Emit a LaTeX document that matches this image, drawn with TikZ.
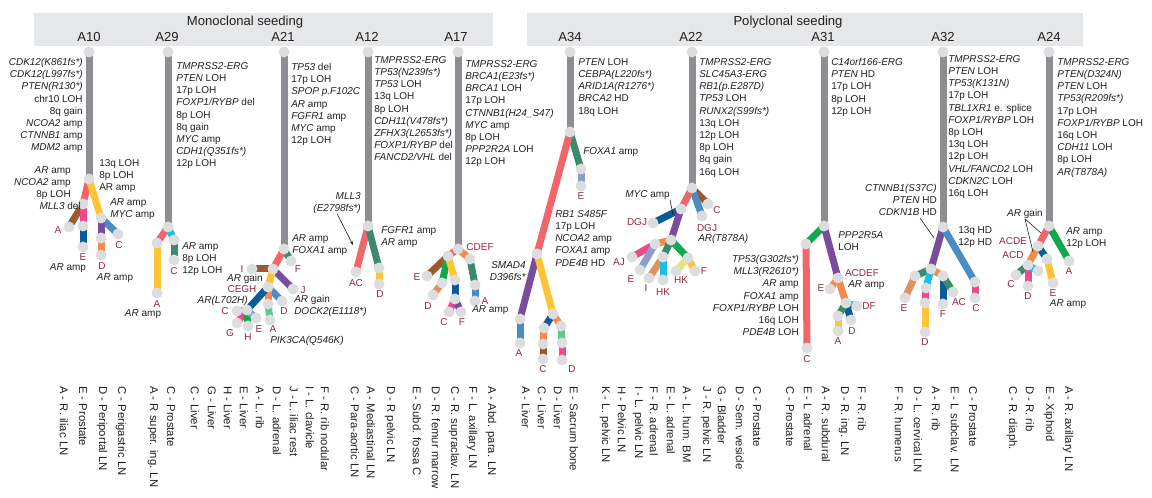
\documentclass[tikz,border=0pt]{standalone}
\usepackage{fontspec}
\setmainfont{Liberation Sans}
\usetikzlibrary{arrows.meta}

\definecolor{bandgray}{RGB}{230,231,232}
\definecolor{trunkgray}{RGB}{141,142,146}
\definecolor{dotgray}{RGB}{220,221,223}
\definecolor{txt}{RGB}{35,31,32}
\definecolor{sitered}{RGB}{150,40,60}
\definecolor{cred}{RGB}{242,102,106}
\definecolor{cyellow}{RGB}{253,197,53}
\definecolor{cpink}{RGB}{236,74,140}
\definecolor{cnavy}{RGB}{12,91,153}
\definecolor{csteel}{RGB}{74,140,196}
\definecolor{cpurple}{RGB}{122,76,158}
\definecolor{corange}{RGB}{244,139,74}
\definecolor{cbrown}{RGB}{155,90,46}
\definecolor{cteal}{RGB}{60,138,108}
\definecolor{cgreen}{RGB}{18,168,78}
\definecolor{ccyan}{RGB}{28,189,230}
\definecolor{cmint}{RGB}{94,199,154}
\definecolor{clav}{RGB}{142,156,204}
\definecolor{cpale}{RGB}{232,226,122}
\definecolor{ctan}{RGB}{224,146,90}

\newcommand{\gene}[1]{\textit{#1}}

\tikzset{
  trunk/.style={line width=5.25pt, draw=trunkgray},
  br/.style={line width=5.25pt, draw=#1},
  dot/.style={circle, fill=dotgray, inner sep=0pt, minimum size=8.25pt},
  band/.style={fill=bandgray, draw=none},
  hdr/.style={font=\fontsize{9.8}{11}\selectfont, text=txt, inner sep=0pt},
  muts/.style={font=\fontsize{7.5}{9.15}\selectfont, text=txt, inner sep=0pt},
  mutl/.style={muts, anchor=north west, align=left},
  mutr/.style={muts, anchor=north east, align=right},
  site/.style={font=\fontsize{7.5}{9}\selectfont, text=sitered, inner sep=0pt},
  organ/.style={font=\fontsize{8.5}{9}\selectfont, text=txt, rotate=-90, anchor=west, inner sep=0pt},
  lead/.style={draw=txt, line width=0.45pt},
}

\begin{document}
\begin{tikzpicture}[x=0.75pt, y=-0.75pt]
  \useasboundingbox (0,0) rectangle (1152,498);

  % header bands
  \fill[band] (34,13) rectangle (493,46);
  \fill[band] (527,13) rectangle (1083,46);
  \node[hdr] (mono) at (245,22) {Monoclonal seeding};
  \node[hdr] (poly) at (788,22) {Polyclonal seeding};
  \foreach \nm/\x in {A10/89, A29/167, A21/283, A12/367, A17/456,
                      A34/570, A22/691, A31/823, A32/943, A24/1049}
    \node[hdr] (h\nm) at (\x,37) {\nm};

  % tree points
  % A10
  \coordinate (a10t) at (89,52);   \coordinate (a10r) at (89,179);
  \coordinate (a10b) at (83,204);  \coordinate (a10y) at (101,218);
  \coordinate (a10A) at (69,227);  \coordinate (a10e) at (83,226);
  \coordinate (a10E) at (83,247);  \coordinate (a10C) at (118,234);
  \coordinate (a10d) at (101,238); \coordinate (a10D) at (101,255);
  % A29
  \coordinate (a29t) at (168,52);  \coordinate (a29r) at (168,227);
  \coordinate (a29a) at (157,243); \coordinate (a29A) at (157,293);
  \coordinate (a29c) at (174,240); \coordinate (a29C) at (174,260);
  % A21
  \coordinate (a21t) at (284,52);  \coordinate (a21r) at (284,249);
  \coordinate (a21F) at (291,261); \coordinate (a21n) at (273,269);
  \coordinate (a21I) at (252,269); \coordinate (a21J) at (293,289);
  \coordinate (a21m) at (268,287); \coordinate (a21D) at (282,301);
  \coordinate (a21a) at (268,304); \coordinate (a21A) at (270,320);
  \coordinate (a21k) at (247,310); \coordinate (a21C) at (237,311);
  \coordinate (a21G) at (237,323); \coordinate (a21H) at (248,326);
  \coordinate (a21E) at (256,318);
  % A12
  \coordinate (a12t) at (368,52);  \coordinate (a12r) at (368,226);
  \coordinate (a12AC) at (356,272); \coordinate (a12d) at (379,268);
  \coordinate (a12D) at (379,284); \coordinate (a12p) at (353,245);
  % A17
  \coordinate (a17t) at (458,52);  \coordinate (a17r) at (458,249);
  \coordinate (a17a) at (470,259); \coordinate (a17b) at (475,285);
  \coordinate (a17A) at (475,301); \coordinate (a17l) at (448,256);
  \coordinate (a17E) at (427,276); \coordinate (a17g) at (442,283);
  \coordinate (a17D) at (433,295); \coordinate (a17y) at (455,280);
  \coordinate (a17k) at (455,299); \coordinate (a17C) at (449,312);
  \coordinate (a17F) at (461,312);
  % A34
  \coordinate (a34t) at (570,52);  \coordinate (a34r) at (570,132);
  \coordinate (a34e) at (581,169); \coordinate (a34E) at (581,186);
  \coordinate (a34n) at (537,254); \coordinate (a34p) at (520,319);
  \coordinate (a34A) at (520,343); \coordinate (a34y) at (553,314);
  \coordinate (a34c) at (544,328); \coordinate (a34k) at (543,344);
  \coordinate (a34C) at (543,359); \coordinate (a34d) at (561,326);
  \coordinate (a34m) at (562,343); \coordinate (a34D) at (562,360);
  % A22
  \coordinate (a22t) at (692,52);  \coordinate (a22r) at (692,188);
  \coordinate (a22C) at (708,204); \coordinate (a22G) at (702,216);
  \coordinate (a22n) at (681,209); \coordinate (a22K) at (653,223);
  \coordinate (a22p) at (671,240); \coordinate (a22o) at (655,244);
  \coordinate (a22AJ) at (632,257); \coordinate (a22E) at (640,270);
  \coordinate (a22q) at (663,257); \coordinate (a22I) at (649,278);
  \coordinate (a22H) at (663,280); \coordinate (a22g) at (688,258);
  \coordinate (a22L) at (676,271); \coordinate (a22F) at (695,271);
  \coordinate (a22w) at (673,215);
  % A31
  \coordinate (a31t) at (824,52);  \coordinate (a31r) at (824,226);
  \coordinate (a31g) at (806,244); \coordinate (a31C) at (807,348);
  \coordinate (a31p) at (838,278); \coordinate (a31E) at (830,289);
  \coordinate (a31o) at (846,303); \coordinate (a31F) at (857,306);
  \coordinate (a31D) at (851,320); \coordinate (a31q) at (838,316);
  \coordinate (a31A) at (838,331);
  % A32
  \coordinate (a32t) at (943,52);  \coordinate (a32r) at (943,227);
  \coordinate (a32p) at (931,269); \coordinate (a32s) at (975,282);
  \coordinate (a32C) at (975,298); \coordinate (a32e) at (915,276);
  \coordinate (a32E) at (905,298); \coordinate (a32c) at (926,288);
  \coordinate (a32k) at (925,303); \coordinate (a32D) at (925,332);
  \coordinate (a32o) at (943,276); \coordinate (a32F) at (943,304);
  \coordinate (a32AC) at (953,292);
  \coordinate (a32u) at (920,218); \coordinate (a32w) at (934,238);
  % A24
  \coordinate (a24t) at (1049,52); \coordinate (a24r) at (1049,226);
  \coordinate (a24A) at (1069,261); \coordinate (a24n) at (1038,246);
  \coordinate (a24b) at (1047,259); \coordinate (a24E) at (1053,283);
  \coordinate (a24o) at (1028,265); \coordinate (a24C) at (1016,275);
  \coordinate (a24D) at (1028,286); \coordinate (a24c) at (1038,271);
  \coordinate (a24w) at (1041,233); \coordinate (a24v) at (1033,252);

  % trunks
  \foreach \t in {a10,a29,a21,a12,a17,a34,a22,a31,a32,a24}
    \draw[trunk] (\t t) -- (\t r);

  % branches
  \draw[br=cred] (a10r) -- (a10b);   \draw[br=cyellow] (a10r) -- (a10y);
  \draw[br=cbrown] (a10b) -- (a10A); \draw[br=cpink] (a10b) -- (a10e);
  \draw[br=cnavy] (a10e) -- (a10E);  \draw[br=csteel] (a10y) -- (a10C);
  \draw[br=cpurple] (a10y) -- (a10d); \draw[br=corange] (a10d) -- (a10D);

  \draw[br=cred] (a29r) -- (a29a);   \draw[br=cyellow] (a29a) -- (a29A);
  \draw[br=ccyan] (a29r) -- (a29c);  \draw[br=cteal] (a29c) -- (a29C);

  \draw[br=cteal] (a21r) -- (a21F);  \draw[br=cred] (a21r) -- (a21n);
  \draw[br=cbrown] (a21n) -- (a21I); \draw[br=cpurple] (a21n) -- (a21J);
  \draw[br=cyellow] (a21n) -- (a21m); \draw[br=csteel] (a21m) -- (a21D);
  \draw[br=corange] (a21m) -- (a21a); \draw[br=cmint] (a21a) -- (a21A);
  \draw[br=cnavy] (a21m) -- (a21k);  \draw[br=corange] (a21k) -- (a21C);
  \draw[br=cpink] (a21k) -- (a21G);  \draw[br=cgreen] (a21k) -- (a21H);
  \draw[br=clav] (a21k) -- (a21E);

  \draw[br=cred] (a12r) -- (a12AC);  \draw[br=cteal] (a12r) -- (a12d);
  \draw[br=cyellow] (a12d) -- (a12D);

  \draw[br=corange] (a17r) -- (a17a); \draw[br=cteal] (a17a) -- (a17b);
  \draw[br=csteel] (a17b) -- (a17A); \draw[br=cred] (a17r) -- (a17l);
  \draw[br=cbrown] (a17l) -- (a17E); \draw[br=cgreen] (a17l) -- (a17g);
  \draw[br=ctan] (a17g) -- (a17D);   \draw[br=cyellow] (a17l) -- (a17y);
  \draw[br=cnavy] (a17y) -- (a17k);  \draw[br=cpink] (a17k) -- (a17C);
  \draw[br=cpurple] (a17k) -- (a17F);

  \draw[br=cteal] (a34r) -- (a34e);  \draw[br=clav] (a34e) -- (a34E);
  \draw[br=cred] (a34r) -- (a34n);   \draw[br=cpurple] (a34n) -- (a34p);
  \draw[br=csteel] (a34p) -- (a34A); \draw[br=cyellow] (a34n) -- (a34y);
  \draw[br=cnavy] (a34y) -- (a34c);  \draw[br=corange] (a34c) -- (a34k);
  \draw[br=cbrown] (a34k) -- (a34C); \draw[br=corange] (a34y) -- (a34d);
  \draw[br=cmint] (a34d) -- (a34m);  \draw[br=cpink] (a34m) -- (a34D);

  \draw[br=cbrown] (a22r) -- (a22C); \draw[br=csteel] (a22r) -- (a22G);
  \draw[br=cred] (a22r) -- (a22n);   \draw[br=cnavy] (a22n) -- (a22K);
  \draw[br=cpurple] (a22n) -- (a22p); \draw[br=corange] (a22p) -- (a22o);
  \draw[br=cpink] (a22o) -- (a22AJ); \draw[br=clav] (a22o) -- (a22E);
  \draw[br=cteal] (a22p) -- (a22q);  \draw[br=ctan] (a22q) -- (a22I);
  \draw[br=ccyan] (a22q) -- (a22H);  \draw[br=cgreen] (a22p) -- (a22g);
  \draw[br=cpale] (a22g) -- (a22L);  \draw[br=cyellow] (a22g) -- (a22F);

  \draw[br=cgreen] (a31r) -- (a31g); \draw[br=cred] (a31g) -- (a31C);
  \draw[br=cpurple] (a31r) -- (a31p); \draw[br=corange] (a31p) -- (a31o);
  \draw[br=corange] (a31p) -- (a31E); \draw[br=ccyan] (a31o) -- (a31F);
  \draw[br=cnavy] (a31o) -- (a31D);  \draw[br=cteal] (a31o) -- (a31q);
  \draw[br=cyellow] (a31q) -- (a31A);

  \draw[br=cpurple] (a32r) -- (a32p); \draw[br=csteel] (a32r) -- (a32s);
  \draw[br=cpink] (a32s) -- (a32C);  \draw[br=cteal] (a32p) -- (a32e);
  \draw[br=ctan] (a32e) -- (a32E);   \draw[br=ccyan] (a32p) -- (a32c);
  \draw[br=cpink] (a32c) -- (a32k);  \draw[br=cyellow] (a32k) -- (a32D);
  \draw[br=corange] (a32p) -- (a32o); \draw[br=cnavy] (a32o) -- (a32F);
  \draw[br=cteal] (a32o) -- (a32AC);

  \draw[br=cgreen] (a24r) -- (a24A); \draw[br=cred] (a24r) -- (a24n);
  \draw[br=cnavy] (a24n) -- (a24b);  \draw[br=cyellow] (a24b) -- (a24E);
  \draw[br=corange] (a24n) -- (a24o); \draw[br=cteal] (a24o) -- (a24C);
  \draw[br=cpink] (a24o) -- (a24D);  \draw[br=ccyan] (a24o) -- (a24c);

  % dots
  \foreach \c in {a10t,a10r,a10b,a10y,a10A,a10e,a10E,a10C,a10d,a10D,
                  a29t,a29r,a29a,a29A,a29c,a29C,
                  a21t,a21r,a21F,a21n,a21I,a21J,a21m,a21D,a21a,a21A,
                  a21k,a21C,a21G,a21H,a21E,
                  a12t,a12r,a12AC,a12d,a12D,
                  a17t,a17r,a17a,a17b,a17A,a17l,a17E,a17g,a17D,a17y,
                  a17k,a17C,a17F,
                  a34t,a34r,a34e,a34E,a34n,a34p,a34A,a34y,a34c,a34k,
                  a34C,a34d,a34m,a34D,
                  a22t,a22r,a22C,a22G,a22n,a22K,a22p,a22o,a22AJ,a22E,
                  a22q,a22I,a22H,a22g,a22L,a22F,
                  a31t,a31r,a31g,a31C,a31p,a31E,a31o,a31F,a31D,a31q,a31A,
                  a32t,a32r,a32p,a32s,a32C,a32e,a32E,a32c,a32k,a32D,
                  a32o,a32F,a32AC,
                  a24t,a24r,a24A,a24n,a24b,a24E,a24o,a24C,a24D,a24c}
    \node[dot] (d\c) at (\c) {};

  % trunk mutations
  \node[mutr] (m10) at (83,58) {\gene{CDK12(K861fs*)}\\\gene{CDK12(L997fs*)}\\
    \gene{PTEN(R130*)}\\chr10 LOH\\8q gain\\\gene{NCOA2} amp\\
    \gene{CTNNB1} amp\\\gene{MDM2} amp};
  \node[mutl] (m29) at (176,62) {\gene{TMPRSS2-ERG}\\\gene{PTEN} LOH\\17p LOH\\
    \gene{FOXP1/RYBP} del\\8p LOH\\8q gain\\\gene{MYC} amp\\
    \gene{CDH1(Q351fs*)}\\12p LOH};
  \node[mutl] (m21) at (291,63) {\gene{TP53} del\\17p LOH\\\gene{SPOP p.F102C}\\
    \gene{AR} amp\\\gene{FGFR1} amp\\\gene{MYC} amp\\12p LOH};
  \node[mutl] (m12) at (374,56) {\gene{TMPRSS2-ERG}\\\gene{TP53(N239fs*)}\\
    \gene{TP53} LOH\\13q LOH\\8p LOH\\\gene{CDH11(V478fs*)}\\
    \gene{ZFHX3(L2653fs*)}\\\gene{FOXP1/RYBP} del\\\gene{FANCD2/VHL} del};
  \node[mutl] (m17) at (465,60) {\gene{TMPRSS2-ERG}\\\gene{BRCA1(E23fs*)}\\
    \gene{BRCA1} LOH\\17p LOH\\\gene{CTNNB1(H24\_S47)}\\\gene{MYC} amp\\
    8p LOH\\\gene{PPP2R2A} LOH\\12p LOH};
  \node[mutl] (m34) at (578,58) {\gene{PTEN} LOH\\\gene{CEBPA(L220fs*)}\\
    \gene{ARID1A(R1276*)}\\\gene{BRCA2} HD\\18q LOH};
  \node[mutl] (m22) at (699,58) {\gene{TMPRSS2-ERG}\\\gene{SLC45A3-ERG}\\
    \gene{RB1(p.E287D)}\\\gene{TP53} LOH\\\gene{RUNX2(S99fs*)}\\13q LOH\\
    12p LOH\\8p LOH\\8q gain\\16q LOH};
  \node[mutl] (m31) at (831,58) {\gene{C14orf166-ERG}\\\gene{PTEN} HD\\17p LOH\\
    8p LOH\\12p LOH};
  \node[mutl] (m32) at (948,55) {\gene{TMPRSS2-ERG}\\\gene{PTEN} LOH\\
    \gene{TP53(K131N)}\\17p LOH\\\gene{TBL1XR1} e. splice\\
    \gene{FOXP1/RYBP} LOH\\8p LOH\\13q LOH\\12p LOH\\
    \gene{VHL/FANCD2} LOH\\\gene{CDKN2C} LOH\\16q LOH};
  \node[mutl] (m24) at (1057,58) {\gene{TMPRSS2-ERG}\\\gene{PTEN(D324N)}\\
    \gene{PTEN} LOH\\\gene{TP53(R209fs*)}\\17p LOH\\\gene{FOXP1/RYBP} LOH\\
    16q LOH\\\gene{CDH11} LOH\\8p LOH\\\gene{AR(T878A)}};

  % branch mutations
  % A10
  \node[mutl] (b10a) at (99,159) {13q LOH\\8p LOH\\AR amp};
  \node[mutr] (b10b) at (71,166) {\gene{AR} amp\\\gene{NCOA2} amp\\8p LOH};
  \node[mutr] (b10c) at (81,202) {\gene{MLL3} del};
  \node[mutl] (b10d) at (110,198) {\gene{AR} amp\\\gene{MYC} amp};
  \node[muts] (b10e) at (68,268) {\gene{AR} amp};
  \node[muts] (b10f) at (115,278) {\gene{AR} amp};
  % A29
  \node[mutl] (b29a) at (182,242) {\gene{AR} amp\\8p LOH\\12p LOH};
  \node[muts] (b29b) at (143,314) {\gene{AR} amp};
  % A21
  \node[mutl] (b21a) at (292,234) {\gene{AR} amp\\\gene{FOXA1} amp};
  \node[mutr] (b21b) at (263,274) {\gene{AR} gain};
  \node[mutr] (b21c) at (248,296) {\gene{AR(L702H)}};
  \node[mutl] (b21d) at (294,295) {\gene{AR} gain\\\gene{DOCK2(E1118*)}};
  \node[mutl] (b21e) at (270,336) {\gene{PIK3CA(Q546K)}};
  % A12
  \node[mutr] (b12a) at (361,192) {\gene{MLL3}\\\gene{(E2798fs*)}};
  \node[mutl] (b12b) at (381,226) {\gene{FGFR1} amp\\\gene{AR} amp};
  % A17
  \node[mutl] (b17a) at (472,305) {\gene{AR} amp};
  % A34
  \node[mutl] (b34a) at (583,147) {\gene{FOXA1} amp};
  \node[mutl] (b34b) at (555,210) {\gene{RB1 S485F}\\17p LOH\\\gene{NCOA2} amp\\
    \gene{FOXA1} amp\\\gene{PDE4B} HD};
  \node[mutr] (b34c) at (526,261) {\gene{SMAD4}\\\gene{D396fs*}};
  % A22
  \node[mutl] (b22a) at (625,190) {\gene{MYC} amp};
  \node[mutl] (b22b) at (698,234) {\gene{AR(T878A)}};
  % A31
  \node[mutr] (b31a) at (799,255) {\gene{TP53(G302fs*)}\\\gene{MLL3(R2610*)}\\
    \gene{AR} amp\\\gene{FOXA1} amp\\\gene{FOXP1/RYBP} LOH\\16q LOH\\
    \gene{PDE4B} LOH};
  \node[mutl] (b31b) at (838,231) {\gene{PPP2R5A}\\LOH};
  \node[mutl] (b31c) at (848,280) {\gene{AR} amp};
  % A32
  \node[mutr] (b32a) at (937,184) {\gene{CTNNB1(S37C)}\\\gene{PTEN} HD\\
    \gene{CDKN1B} HD};
  \node[mutl] (b32b) at (958,226) {13q HD\\12p HD};
  % A24
  \node[muts] (b24a) at (1025,214) {\gene{AR} gain};
  \node[mutl] (b24b) at (1066,227) {\gene{AR} amp\\12p LOH};
  \node[muts] (b24c) at (1068,304) {\gene{AR} amp};

  % leader lines
  \draw[lead, -{Stealth[length=3pt, width=2.2pt]}] (b12a.south) -- (a12p);
  \draw[lead] (b22a.south east) -- (a22w);
  \draw[lead] (a32u) -- (a32w);
  \draw[lead] (b24a.south) -- (a24w);
  \draw[lead] (b24a.south) -- (a24v);

  % sample letters
  \foreach \s/\x/\y in {A/58/230, E/83/257, C/119/245, D/102/266,
      A/157/304, C/174/271,
      F/298/269, I/242/269, J/303/290, D/284/311, A/273/329,
      CEGH/242/289, C/225/311, G/230/333, H/248/337, E/259/329,
      AC/356/283, D/380/294,
      CDEF/480/247, E/417/277, D/428/306, C/444/322, F/462/322, A/485/301,
      E/581/196, A/519/353, C/543/369, D/572/369,
      C/717/210, DGJ/707/228, DGJ/637/222, AJ/619/262, E/631/279,
      I/646/288, HK/663/292, HK/681/280, F/704/271,
      C/807/359, E/821/288, DF/869/306, D/852/331, A/838/341, ACDEF/862/273,
      C/976/308, E/904/308, D/925/342, F/943/314, AC/959/302,
      A/1069/271, E/1053/293, C/1011/284, D/1028/296, ACDE/1013/241,
      ACD/1013/255}
    \node[site] (s\s\x) at (\x,\y) {\s};

  % metastatic sites
  \foreach \x/\txt in {64/A - R. iliac LN, 83/E - Prostate,
      102/D - Periportal LN, 121/C - Perigastric LN,
      153/A - R super. ing. LN, 171/C - Prostate,
      195/C - Liver, 212/G - Liver, 228/H - Liver, 244/E - Liver,
      260/A - L. rib, 277/D - L. adrenal, 294/J - L. iliac rest,
      310/I - L. clavicle, 325/F - R. rib nodular,
      355/C - Para-aortic LN, 371/A - Mediastinal LN, 390/D - R pelvic LN,
      417/E - Subd. fossa C, 436/D - R. femur marrow,
      454/C - R. supraclav. LN, 472/F - L. axillary LN,
      491/A - Abd. para. LN,
      526/A - Liver, 542/C - Liver, 558/D - Liver, 574/E - Sacrum bone,
      605/K - L. pelvic LN, 622/H - Pelvic LN, 638/I - L. pelvic LN,
      654/F - R. adrenal, 671/E - L. adrenal, 687/A - L. hum. BM,
      706/J - R. pelvic LN, 722/G - Bladder, 740/D - Sem. vesicle,
      757/C - Prostate,
      790/C - Prostate, 808/E - L adrenal, 826/A - R. subdural,
      844/D - R. ing. LN, 862/F - R. rib,
      899/F - R. humerus, 918/D - L. cervical LN, 936/A - R. rib,
      955/E - L subclav. LN, 973/C - Prostate,
      1012/C - R. diaph., 1030/D - R. rib, 1049/E - Xiphoid,
      1068/A - R. axillary LN}
    \node[organ] (o\x) at (\x,386) {\txt};
\end{tikzpicture}
\end{document}
